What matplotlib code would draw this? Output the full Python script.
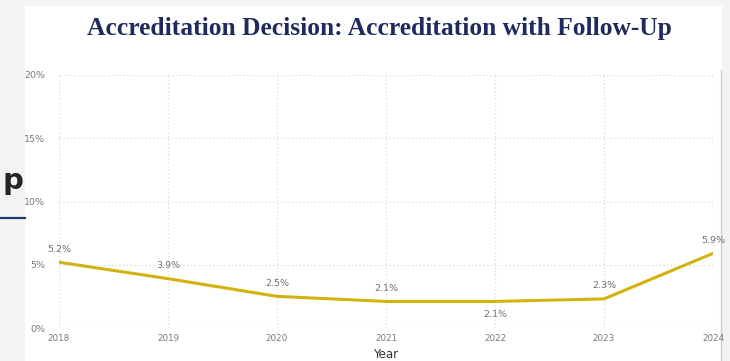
import numpy as np
import matplotlib.pyplot as plt
from matplotlib.patches import Rectangle
from matplotlib.lines import Line2D

# Accreditation with Follow-Up, share of decisions per year
years = [2018, 2019, 2020, 2021, 2022, 2023, 2024]
share = [5.2, 3.9, 2.5, 2.1, 2.1, 2.3, 5.9]
labels = ['5.2%', '3.9%', '2.5%', '2.1%', '2.1%', '2.3%', '5.9%']
label_below = [False, False, False, False, True, False, False]
yticks = [0, 5, 10, 15, 20]

W, H = 730, 361
fig = plt.figure(figsize=(W / 100, H / 100), dpi=100)
fig.patch.set_facecolor('#f3f3f3')

# white slide panel
fig.patches.append(Rectangle((25 / W, 0), 697 / W, 355 / H, transform=fig.transFigure,
                             facecolor='white', edgecolor='none', zorder=-2))
fig.lines.append(Line2D([721 / W, 721 / W], [0, 291 / H], transform=fig.transFigure,
                        color='#d0d0d0', lw=1, zorder=-1))
# piece of the slide behind
fig.text(23 / W, 1 - 181 / H, 'p', ha='right', va='center', fontsize=21,
         fontweight='bold', color='#252525', family='DejaVu Sans')
fig.lines.append(Line2D([0, 25 / W], [1 - 218 / H, 1 - 218 / H], transform=fig.transFigure,
                        color='#233a78', lw=1.6))

fig.text(379 / W, 1 - 28 / H, 'Accreditation Decision: Accreditation with Follow-Up',
         ha='center', va='center', fontsize=18.4, fontweight='bold',
         color='#1f2b5c', family='Liberation Serif')

ax = fig.add_axes([59 / W, 33 / H, 654 / W, 253 / H])
ax.set_facecolor('none')
ax.plot(years, share, color='#d2b20f', lw=2.2, solid_capstyle='round', zorder=3)

for x, y, t, below in zip(years, share, labels, label_below):
    off = -13 if below else 13
    ax.annotate(t, (x, y), xytext=(0, off), textcoords='offset pixels',
                ha='center', va='center', fontsize=6.8, color='#707070')

ax.set_xlim(2018, 2024)
ax.set_ylim(0, 20)
ax.set_xticks(years)
ax.set_xticklabels([str(y) for y in years], fontsize=6.3, color='#7a7a7a')
ax.set_yticks(yticks)
ax.set_yticklabels([f'{v}%' for v in yticks], fontsize=6.8, color='#7a7a7a')
ax.tick_params(length=0, pad=4)
ax.tick_params(axis='y', pad=10)
ax.grid(True, color='#d9d9d9', ls=(0, (1, 2)), lw=0.9)
for s in ax.spines.values():
    s.set_visible(False)
ax.set_xlabel('Year', fontsize=8.5, color='#333333', labelpad=4)

fig.savefig('out.png', dpi=100, facecolor=fig.get_facecolor())
